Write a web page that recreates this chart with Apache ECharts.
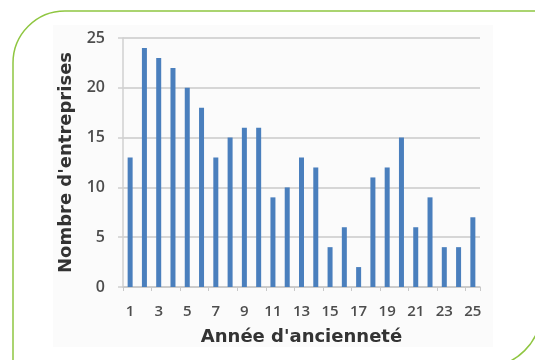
<!DOCTYPE html>
<html>
<head>
<meta charset="utf-8">
<script src="https://cdn.jsdelivr.net/npm/echarts@6/dist/echarts.min.js"></script>
<style>
  html, body { margin: 0; padding: 0; background: #ffffff; }
  #chart { width: 535px; height: 360px; }
</style>
</head>
<body>
<div id="chart"></div>
<script>
// Years of seniority (1..25) and the number of companies for each
const years = ['1','2','3','4','5','6','7','8','9','10','11','12','13','14','15','16','17','18','19','20','21','22','23','24','25'];
const companies = [13, 24, 23, 22, 20, 18, 13, 15, 16, 16, 9, 10, 13, 12, 4, 6, 2, 11, 12, 15, 6, 9, 4, 4, 7];
const yTicks = [0, 5, 10, 15, 20, 25];

const chart = echarts.init(document.getElementById('chart'), null, { renderer: 'canvas' });

const tickFont = '"Open Sans", "DejaVu Sans", sans-serif';
const titleFont = '"DejaVu Sans", "Open Sans", sans-serif';

chart.setOption({
  backgroundColor: '#ffffff',
  animation: false,
  graphic: [
    {
      // pale panel behind the plot
      type: 'rect',
      z: -10,
      shape: { x: 53, y: 25, width: 440, height: 322 },
      style: { fill: '#fbfbfb' }
    },
    {
      // green rounded frame
      type: 'rect',
      z: -5,
      shape: { x: 13, y: 11, width: 528, height: 356, r: [52, 0, 56, 0] },
      style: { fill: 'none', stroke: '#8fc641', lineWidth: 1.5 }
    }
  ],
  grid: { left: 123, right: 55, top: 38, bottom: 73, containLabel: false },
  xAxis: {
    type: 'category',
    data: years,
    name: "Année d'ancienneté",
    nameLocation: 'middle',
    nameGap: 41,
    nameTextStyle: { fontFamily: titleFont, fontWeight: 'bold', fontSize: 18, color: '#333333' },
    axisLine: { show: true, lineStyle: { color: '#c8c8c8', width: 1.5 } },
    axisTick: { show: true, alignWithLabel: false, length: 4, lineStyle: { color: '#c8c8c8' } },
    axisLabel: { interval: 1, margin: 17, fontFamily: tickFont, fontWeight: 600, fontSize: 15, color: '#4d4d4d' },
    splitLine: { show: false }
  },
  yAxis: {
    type: 'value',
    min: yTicks[0],
    max: yTicks[yTicks.length - 1],
    interval: 5,
    name: "Nombre d'entreprises",
    nameLocation: 'middle',
    nameGap: 44,
    nameRotate: 90,
    nameTextStyle: { fontFamily: titleFont, fontWeight: 'bold', fontSize: 18, color: '#333333' },
    axisLine: { show: true, lineStyle: { color: '#d0d0d0', width: 1.5 } },
    axisTick: { show: true, length: 5, lineStyle: { color: '#d0d0d0', width: 1.5 } },
    axisLabel: { margin: 18, fontFamily: tickFont, fontWeight: 600, fontSize: 16, color: '#4d4d4d' },
    splitLine: { show: true, lineStyle: { color: '#d6d6d6', width: 2 } }
  },
  series: [{
    type: 'bar',
    data: companies,
    barWidth: 5,
    itemStyle: { color: '#4a7fbd' }
  }]
});
</script>
</body>
</html>
